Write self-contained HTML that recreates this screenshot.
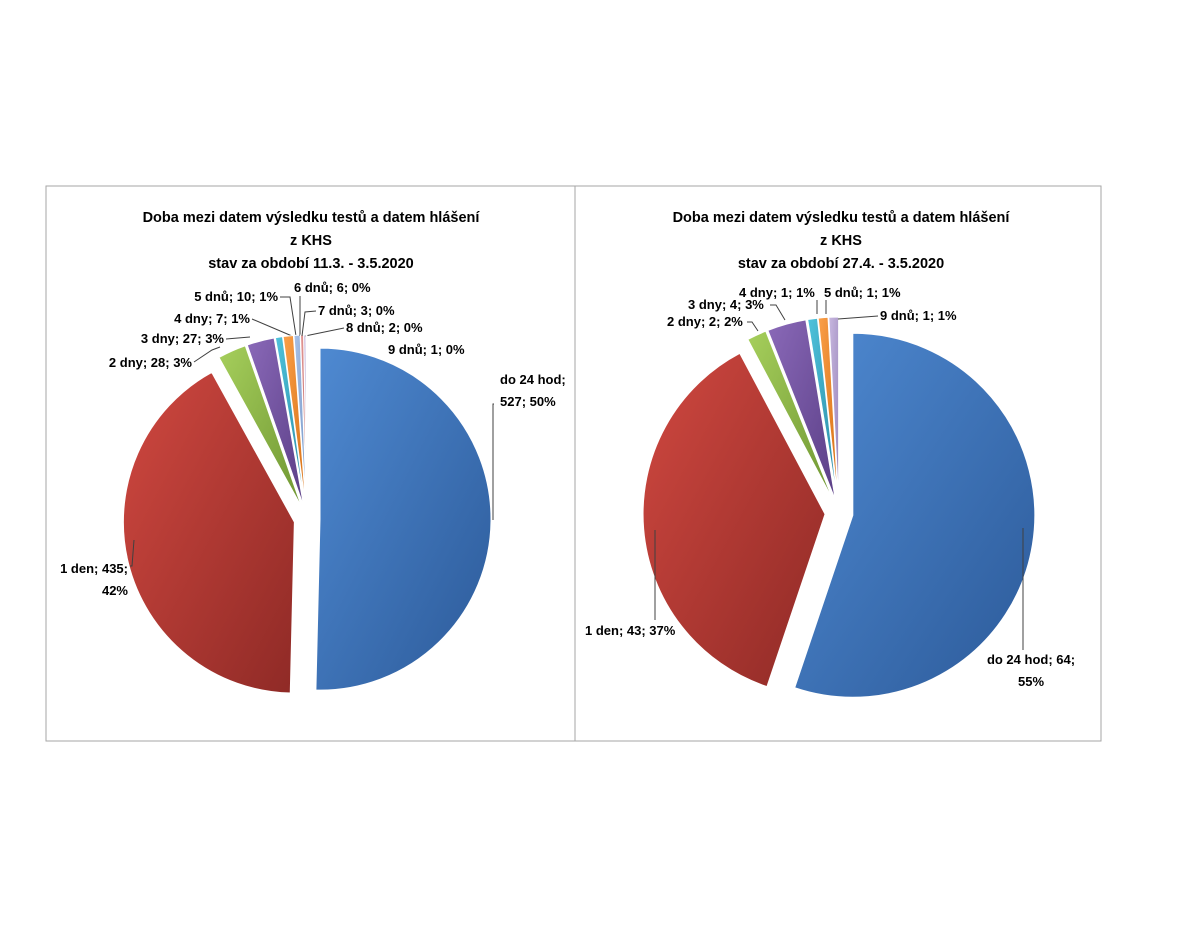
<!DOCTYPE html>
<html><head><meta charset="utf-8">
<style>
body{margin:0;background:#fff;}
svg{display:block;font-family:"Liberation Sans",sans-serif;}
.t{font-weight:bold;font-size:14.5px;fill:#000;}
.l{font-weight:bold;font-size:13px;fill:#000;}
</style></head>
<body>
<svg id="s" width="1200" height="927" viewBox="0 0 1200 927">
<defs>
 <linearGradient id="gblue" x1="0" y1="0" x2="1" y2="1"><stop offset="0" stop-color="#4f8ad2"/><stop offset="1" stop-color="#2c5a99"/></linearGradient>
 <linearGradient id="gred" x1="0" y1="0" x2="1" y2="1"><stop offset="0" stop-color="#d04840"/><stop offset="1" stop-color="#8f2a26"/></linearGradient>
 <linearGradient id="ggreen" x1="0" y1="0" x2="1" y2="1"><stop offset="0" stop-color="#a6cf5c"/><stop offset="1" stop-color="#6f9632"/></linearGradient>
 <linearGradient id="gpurple" x1="0" y1="0" x2="1" y2="1"><stop offset="0" stop-color="#8a69b8"/><stop offset="1" stop-color="#5a3e86"/></linearGradient>
 <linearGradient id="gcyan" x1="0" y1="0" x2="1" y2="1"><stop offset="0" stop-color="#4fc3dc"/><stop offset="1" stop-color="#2a8aa4"/></linearGradient>
 <linearGradient id="gorange" x1="0" y1="0" x2="1" y2="1"><stop offset="0" stop-color="#fba04a"/><stop offset="1" stop-color="#d66f12"/></linearGradient>
 <linearGradient id="glblue" x1="0" y1="0" x2="1" y2="1"><stop offset="0" stop-color="#a9c2e8"/><stop offset="1" stop-color="#7596c6"/></linearGradient>
 <linearGradient id="gpink" x1="0" y1="0" x2="1" y2="1"><stop offset="0" stop-color="#e79a98"/><stop offset="1" stop-color="#b86664"/></linearGradient>
 <linearGradient id="glav" x1="0" y1="0" x2="1" y2="1"><stop offset="0" stop-color="#c8b8e0"/><stop offset="1" stop-color="#9a86ba"/></linearGradient>
 <linearGradient id="gsand" x1="0" y1="0" x2="1" y2="1"><stop offset="0" stop-color="#cfe3a0"/><stop offset="1" stop-color="#9bb468"/></linearGradient>
</defs>
<rect x="46" y="186" width="1055" height="555" fill="#fff" stroke="#a6a6a6" stroke-width="1"/>
<line x1="575" y1="186" x2="575" y2="741" stroke="#a6a6a6"/>
<g id="left"></g>
<g id="right"></g>
</svg>
<script>
// Left chart data
const leftCategories = ["do 24 hod","1 den","2 dny","3 dny","4 dny","5 dnů","6 dnů","7 dnů","8 dnů","9 dnů"];
const leftValues = [527,435,28,27,7,10,6,3,2,1];
const leftPercents = ["50%","42%","3%","3%","1%","1%","0%","0%","0%","0%"];
// Right chart data
const rightCategories = ["do 24 hod","1 den","2 dny","3 dny","4 dny","5 dnů","9 dnů"];
const rightValues = [64,43,2,4,1,1,1];
const rightPercents = ["55%","37%","2%","3%","1%","1%","1%"];

const NS="http://www.w3.org/2000/svg";
function mk(tag,attrs,parent){const e=document.createElementNS(NS,tag);for(const k in attrs)e.setAttribute(k,attrs[k]);parent.appendChild(e);return e;}

function drawPie(g,cats,vals,pcts,fills,cfg){
  const total=vals.reduce((a,b)=>a+b,0);
  let a0=0;
  cats.forEach((c,i)=>{
    const sweep=vals[i]/total*2*Math.PI;
    const a1=a0+sweep, mid=a0+sweep/2;
    const ox=cfg.cx+cfg.off*Math.sin(mid), oy=cfg.cy-cfg.off*Math.cos(mid);
    const x0=ox+cfg.r*Math.sin(a0), y0=oy-cfg.r*Math.cos(a0);
    const x1=ox+cfg.r*Math.sin(a1), y1=oy-cfg.r*Math.cos(a1);
    const large=sweep>Math.PI?1:0;
    const p=mk("path",{d:`M${ox},${oy} L${x0},${y0} A${cfg.r},${cfg.r} 0 ${large} 1 ${x1},${y1} Z`,fill:"url(#"+fills[i]+")",stroke:"#fff","stroke-width":"1"},g);
    
    
    const L=cfg.labels[i];
    if(L){
      if(L.line){
        const ln=mk("polyline",{points:L.line,fill:"none",stroke:"#404040","stroke-width":"1"},g);
        
        
      }
      const full=c+"; "+vals[i]+"; "+pcts[i];
      const lines=L.split?L.split(c,vals[i],pcts[i]):[full];
      lines.forEach((tx,j)=>{
        const t=mk("text",{x:L.x,y:L.y+j*22,class:"l","text-anchor":L.anchor||"start"},g);
        t.textContent=tx;
        
        
      });
    }
    a0=a1;
  });
}
function title(g,cx,lines){
  lines.forEach((s,j)=>{
    const t=mk("text",{x:cx,y:222+j*23,class:"t","text-anchor":"middle"},g);
    t.textContent=s;
    
    
  });
}
const L=document.getElementById("left"), R=document.getElementById("right");
title(L,311,["Doba mezi datem výsledku testů a datem hlášení","z KHS","stav za období 11.3. - 3.5.2020"]);
title(R,841,["Doba mezi datem výsledku testů a datem hlášení","z KHS","stav za období 27.4. - 3.5.2020"]);
const split2a=(c,v,p)=>[c+";",v+"; "+p];
const split2b=(c,v,p)=>[c+"; "+v+";",p];
drawPie(L,leftCategories,leftValues,leftPercents,
 ["gblue","gred","ggreen","gpurple","gcyan","gorange","glblue","gpink","glav","gsand"],
 {cx:307,cy:519,r:171,off:13,labels:[
  {x:500,y:384,split:split2a,line:"494,404 493,404 493,520"},
  {x:128,y:573,anchor:"end",split:(c,v,p)=>[c+"; "+v+";",p],line:"130,566 132,566 134,540"},
  {x:192,y:367,anchor:"end",line:"194,362 212,350 220,347"},
  {x:224,y:343,anchor:"end",line:"226,339 250,337"},
  {x:250,y:323,anchor:"end",line:"252,319 292,336"},
  {x:278,y:301,anchor:"end",line:"280,297 290,297 296,336"},
  {x:294,y:292,line:"300,296 300,336"},
  {x:318,y:315,line:"316,311 305,312 302,336"},
  {x:346,y:332,line:"344,328 305,336"},
  {x:388,y:354}
 ]});
drawPie(R,rightCategories,rightValues,rightPercents,
 ["gblue","gred","ggreen","gpurple","gcyan","gorange","glav"],
 {cx:839,cy:513,r:182,off:14,labels:[
  {x:1031,y:664,anchor:"middle",split:split2b,line:"1023,528 1023,650"},
  {x:585,y:635,line:"655,620 655,530"},
  {x:667,y:326,line:"747,322 752,322 758,331"},
  {x:688,y:309,line:"770,305 776,305 785,320"},
  {x:739,y:297,line:"817,300 817,314"},
  {x:824,y:297,line:"826,300 826,314"},
  {x:880,y:320,line:"878,316 838,319"}
 ]});
</script>
</body></html>
